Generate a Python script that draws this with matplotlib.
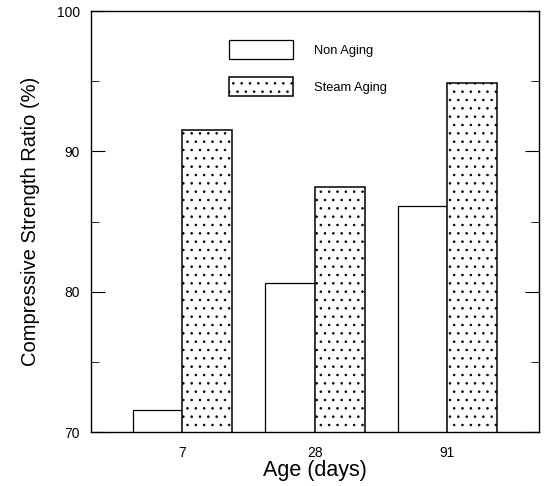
import numpy as np
import matplotlib
matplotlib.use("Agg")
import matplotlib.pyplot as plt
from matplotlib.ticker import MultipleLocator

ages = ["7", "28", "91"]
non_aging = [71.6, 80.6, 86.1]
steam_aging = [91.5, 87.5, 94.9]

plt.rcParams['font.family'] = ['Liberation Sans', 'DejaVu Sans']
plt.rcParams['hatch.linewidth'] = 0.6
plt.rcParams['hatch.color'] = '#555555'

fig = plt.figure(figsize=(5.47, 4.86), dpi=100)
ax = fig.add_axes([0.166, 0.111, 0.819, 0.866])

x = np.arange(len(ages))
w = 0.375
ax.bar(x - w / 2, non_aging, w, color='white', edgecolor='black',
       linewidth=0.9, label='Non Aging')
ax.bar(x + w / 2, steam_aging, w, color='white', edgecolor='black',
       linewidth=1.1, hatch='..', label='Steam Aging')

ax.set_ylim(70, 100)
ax.set_xlim(-0.69, 2.69)
ax.set_xticks(x)
ax.set_xticklabels(ages)
ax.yaxis.set_major_locator(MultipleLocator(10))
ax.yaxis.set_minor_locator(MultipleLocator(5))
ax.tick_params(axis='x', length=0, labelsize=10, pad=10)
ax.tick_params(axis='y', which='major', direction='in', length=10,
               labelsize=10, pad=8, right=True)
ax.tick_params(axis='y', which='minor', direction='in', length=6, right=True)
for s in ax.spines.values():
    s.set_linewidth(1.0)

ax.set_ylabel('Compressive Strength Ratio (%)', fontsize=14.5, labelpad=12)
ax.set_xlabel('Age (days)', fontsize=15.5, labelpad=0)

ax.legend(loc='upper left', bbox_to_anchor=(0.282, 0.958), frameon=False,
          fontsize=9.3, handlelength=5.0, handleheight=1.8, labelspacing=1.45,
          handletextpad=1.6)

fig.savefig('out.png', dpi=100)
